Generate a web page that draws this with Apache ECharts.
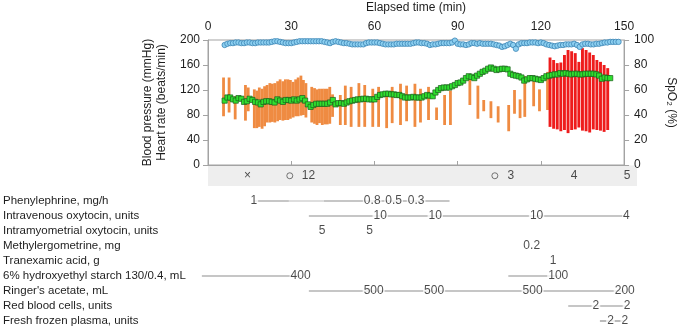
<!DOCTYPE html>
<html>
<head>
<meta charset="utf-8">
<script src="https://cdn.jsdelivr.net/npm/echarts@6/dist/echarts.min.js"></script>
<style>
  html, body { margin: 0; padding: 0; background: #fff; }
  #chart { width: 685px; height: 329px; }
</style>
</head>
<body>
<div id="chart"></div>
<script>
  // heart rate, one reading per minute from minute 6
  var hrStart = 6;
  var hrValues = [
    103, 108, 108, 105, 103, 107, 106, 101, 102, 106,
    104, 101, 100, 97, 101, 102, 102, 101, 100, 105,
    103, 101, 104, 104, 103, 105, 103, 105, 107, 103,
    97, 93, 96, 98, 98, 98, 98, 98, 100, 104,
    97, 99, 99, 98, 100, 102, 103, 104, 105, 105,
    106, 106, 105, 105, 105, 109, 112, 113, 114, 114,
    113, 113, 112, 112, 110, 108, 108, 108, 109, 108,
    108, 108, 110, 112, 111, 110, 116, 120, 123, 124,
    124, 124, 126, 128, 131, 132, 135, 139, 142, 141,
    139, 143, 146, 149, 151, 154, 156, 154, 152, 153,
    154, 154, 153, 146, 144, 143, 142, 140, 135, 137,
    139, 139, 138, 137, 136, 139, 142, 143, 144, 145,
    145, 147, 146, 147, 146, 145, 146, 146, 145, 145,
    146, 146, 146, 146, 145, 143, 138, 140, 139, 139
  ];

  // SpO2, one reading per minute from minute 6
  var spo2Start = 6;
  var spo2Values = [
    96, 97, 97.5, 97.5, 98, 98, 97.5, 97.5, 98, 98,
    97.5, 97.5, 98, 98, 98, 98, 98, 98.5, 99, 99,
    98.5, 98, 97.5, 97.5, 97.5, 98, 98.5, 99, 99, 99,
    99, 99, 99, 99, 99, 99, 98.5, 98, 97.5, 98.5,
    99, 98.5, 98, 97.5, 97.5, 97, 96.5, 96.5, 96.5, 96.5,
    96.5, 97.5, 98, 98, 98, 98, 97.5, 97, 96.5, 96.5,
    96.5, 96.5, 97, 97, 97, 97, 97, 97, 97.5, 98,
    98, 97.5, 97.5, 97, 96, 96.5, 96.5, 97, 97.5, 97.5,
    97.5, 97.5, 98, 99.5, 97, 96.5, 96.5, 96, 96.5, 97.5,
    97.5, 97, 97.5, 97, 97, 97, 97, 96.5, 96, 95.5,
    94.5, 95, 96, 97, 96, 93, 96.5, 97.5, 97.5, 97.5,
    98, 98, 98, 97.5, 98, 97.5, 96.5, 96, 95.5, 95,
    95.5, 96, 96, 96.5, 96.5, 96.5, 97, 96, 94.5, 96.5,
    97, 97, 96.5, 96.5, 97, 97, 97.5, 98, 98, 98.5,
    98.5, 98.5, 98.5
  ];

  // blood pressure ranges (orange): time, low, high
  var bpTime = [5.6, 7.6, 9.8, 13.5, 14.5, 16.7, 17.6, 18.5, 19.5, 20.4, 21.3, 22.3, 23.2, 24.1, 25.1, 26.0,
    27.0, 27.9, 28.8, 29.7, 30.7, 31.6, 32.5, 33.5, 34.4, 35.3, 37.4, 38.4, 39.3, 40.2, 41.2, 42.1, 43.0,
    43.9, 44.9, 47.7, 49.5, 51.6, 54.4, 56.5, 59.4, 61.5, 64.4, 66.4, 69.4, 71.6, 74.6, 76.6, 79.5, 82.4,
    85.3, 87.4, 94.4, 97.3, 99.4, 102.0, 104.6, 108.4, 110.5, 112.5, 114.2, 117.4, 119.5, 122.4];
  var bpLow = [78, 84, 73, 71, 86, 59, 59, 61, 58, 62, 68, 68, 69, 68, 70, 72,
    71, 72, 72, 74, 76, 78, 78, 79, 80, 76, 68, 66, 64, 67, 64, 65, 65,
    66, 77, 64, 64, 61, 61, 61, 61, 61, 59, 67, 64, 70, 61, 68, 72, 72,
    64, 64, 96, 74, 86, 75, 68, 54, 82, 75, 77, 94, 86, 88];
  var bpHigh = [140, 140, 110, 128, 124, 121, 119, 124, 122, 126, 128, 131, 130, 131, 134, 137,
    134, 137, 137, 136, 133, 137, 140, 143, 136, 131, 125, 123, 121, 122, 122, 122, 122,
    125, 113, 112, 127, 125, 131, 128, 122, 125, 113, 125, 130, 127, 130, 122, 125, 92,
    112, 119, 137, 127, 104, 102, 94, 96, 120, 105, 142, 134, 121, 149];

  // blood pressure ranges (red, late phase)
  var redTime = [123.3, 124.6, 125.9, 127.2, 128.5, 129.8, 131.1, 132.4, 133.7, 135.0, 136.3, 137.6,
    138.9, 140.2, 141.5, 142.8, 144.1];
  var redLow = [61, 58, 57, 54, 56, 51, 56, 57, 60, 55, 54, 52, 57, 56, 55, 53, 56];
  var redHigh = [172, 168, 163, 164, 176, 184, 182, 179, 165, 187, 184, 180, 176, 168, 165, 160, 155];

  // event strip
  var circleTimes = [28.6, 100.3];
  var markTimes = [13.8, 35.1, 105.9, 128.0, 146.5];
  var markLabels = ['\u00d7', '12', '3', '4', '5'];

  // medication table
  var drugNames = ['Phenylephrine, mg/h', 'Intravenous oxytocin, units', 'Intramyometrial oxytocin, units',
    'Methylergometrine, mg', 'Tranexamic acid, g', '6% hydroxyethyl starch 130/0.4, mL',
    "Ringer's acetate, mL", 'Red blood cells, units', 'Fresh frozen plasma, units'];
  var doseLabels = [
    [0, 15.7, '1'], [0, 57.2, '0.8'], [0, 64.7, '0.5'], [0, 72.6, '0.3'],
    [1, 60.0, '10'], [1, 79.3, '10'], [1, 114.8, '10'], [1, 146.3, '4'],
    [2, 39.6, '5'], [2, 56.3, '5'],
    [3, 113.1, '0.2'],
    [4, 120.6, '1'],
    [5, 32.1, '400'], [5, 122.4, '100'],
    [6, 57.7, '500'], [6, 78.9, '500'], [6, 113.4, '500'], [6, 145.7, '200'],
    [7, 135.6, '2'], [7, 146.5, '2'],
    [8, 140.7, '2'], [8, 145.7, '2']
  ];
  // row, from, to
  var doseLines = [
    [0, 15.7, 28.0], [0, 40.3, 84.3],
    [1, 35.0, 146.3],
    [5, -2.5, 32.1], [5, 104.9, 122.4],
    [6, 35.0, 145.7],
    [7, 125.9, 146.5],
    [8, 137.0, 145.7]
  ];
  var doseLinesFaint = [[0, 28.0, 40.3]];

  var FONT = '"Liberation Sans", Arial, Helvetica, sans-serif';
  var AX = '#a3a3a3';
  var TXT = '#1e1e1e';

  function zip3(a, b, c) {
    return a.map(function (v, i) { return [v, b[i], c[i]]; });
  }

  function rangeBars(color, w) {
    return function (params, api) {
      var hi = api.coord([api.value(0), api.value(2)]);
      var lo = api.coord([api.value(0), api.value(1)]);
      return {
        type: 'rect',
        shape: { x: hi[0] - w / 2, y: hi[1], width: w, height: lo[1] - hi[1] },
        style: { fill: color }
      };
    };
  }

  function segments(color) {
    return function (params, api) {
      var a = api.coord([api.value(1), api.value(0)]);
      var b = api.coord([api.value(2), api.value(0)]);
      return {
        type: 'line',
        shape: { x1: a[0], y1: a[1], x2: b[0], y2: b[1] },
        style: { stroke: color, lineWidth: 1.2 }
      };
    };
  }

  var chart = echarts.init(document.getElementById('chart'));
  chart.setOption({
    animation: false,
    textStyle: { fontFamily: FONT },
    grid: [
      { left: 208, right: 48, top: 40, height: 125, show: true, borderColor: AX, borderWidth: 1 },
      { left: 208, right: 48, top: 165.5, height: 20.5, show: true, backgroundColor: '#eeeeee', borderWidth: 0 },
      { left: 208, right: 48, top: 193.5, height: 135 }
    ],
    xAxis: [
      {
        gridIndex: 0, type: 'value', position: 'top', min: 0, max: 150, interval: 30,
        name: 'Elapsed time (min)', nameLocation: 'middle', nameGap: 26,
        nameTextStyle: { fontSize: 12, color: TXT },
        axisLine: { lineStyle: { color: AX } },
        axisTick: { show: true, length: 4, lineStyle: { color: AX } },
        axisLabel: { fontSize: 12, color: TXT, margin: 7 },
        splitLine: { show: false }
      },
      { gridIndex: 1, type: 'value', min: 0, max: 150, show: false },
      { gridIndex: 2, type: 'value', min: 0, max: 150, show: false }
    ],
    yAxis: [
      {
        gridIndex: 0, type: 'value', min: 0, max: 200, interval: 40,
        name: 'Blood pressure (mmHg)\nHeart rate (beats/min)', nameLocation: 'middle', nameGap: 36,
        nameTextStyle: { fontSize: 12, color: TXT, lineHeight: 14 },
        axisLine: { show: true, lineStyle: { color: AX } },
        axisTick: { show: true, length: 5, lineStyle: { color: AX } },
        axisLabel: { fontSize: 12, color: TXT, margin: 8 },
        splitLine: { show: false }
      },
      {
        gridIndex: 0, type: 'value', position: 'right', min: 0, max: 100, interval: 20,
        name: 'SpO\u2082 (%)', nameLocation: 'middle', nameRotate: -90, nameGap: 37,
        nameTextStyle: { fontSize: 12, color: TXT },
        axisLine: { show: true, lineStyle: { color: AX } },
        axisTick: { show: true, length: 5, lineStyle: { color: AX } },
        axisLabel: { fontSize: 12, color: TXT, margin: 10 },
        splitLine: { show: false }
      },
      { gridIndex: 1, type: 'value', min: 0, max: 1, show: false },
      {
        gridIndex: 2, type: 'category', data: drugNames, inverse: true,
        axisLine: { show: false }, axisTick: { show: false }, splitLine: { show: false },
        axisLabel: { align: 'left', margin: 206, fontSize: 11.5, color: TXT, interval: 0 }
      }
    ],
    series: [
      {
        type: 'custom', xAxisIndex: 0, yAxisIndex: 0, z: 2,
        data: zip3(bpTime, bpLow, bpHigh), encode: { x: 0, y: [1, 2] },
        renderItem: rangeBars('#ef8b42', 2.8)
      },
      {
        type: 'custom', xAxisIndex: 0, yAxisIndex: 0, z: 2,
        data: zip3(redTime, redLow, redHigh), encode: { x: 0, y: [1, 2] },
        renderItem: rangeBars('#ee1c1c', 2.9)
      },
      {
        type: 'line', xAxisIndex: 0, yAxisIndex: 0, z: 3,
        data: hrValues.map(function (v, i) { return [hrStart + i, v]; }),
        symbol: 'rect', symbolSize: 5.2, showSymbol: true,
        lineStyle: { color: '#2a6e2a', width: 1 },
        itemStyle: { color: '#2fe02f', borderColor: '#1d5c1d', borderWidth: 0.7 }
      },
      {
        type: 'scatter', xAxisIndex: 0, yAxisIndex: 1, z: 4,
        data: spo2Values.map(function (v, i) { return [spo2Start + i, v]; }),
        symbol: 'circle', symbolSize: 5.4,
        itemStyle: { color: '#8ccff0', borderColor: '#3c85b5', borderWidth: 0.8, opacity: 1 }
      },
      {
        type: 'scatter', xAxisIndex: 1, yAxisIndex: 2, silent: true,
        data: circleTimes.map(function (t) { return [t, 0.5]; }),
        symbol: 'circle', symbolSize: 6,
        itemStyle: { color: 'rgba(0,0,0,0)', borderColor: '#555', borderWidth: 1 }
      },
      {
        type: 'scatter', xAxisIndex: 1, yAxisIndex: 2, silent: true,
        data: markTimes.map(function (t, i) { return { value: [t, 0.5], name: markLabels[i] }; }),
        symbolSize: 0,
        label: { show: true, position: 'inside', formatter: '{b}', fontSize: 12, color: TXT }
      },
      {
        type: 'custom', xAxisIndex: 2, yAxisIndex: 3, z: 1,
        data: doseLines, encode: { x: [1, 2], y: 0 },
        renderItem: segments('#8e8e8e')
      },
      {
        type: 'custom', xAxisIndex: 2, yAxisIndex: 3, z: 1,
        data: doseLinesFaint, encode: { x: [1, 2], y: 0 },
        renderItem: segments('#bcbcbc')
      },
      {
        type: 'scatter', xAxisIndex: 2, yAxisIndex: 3, z: 3, silent: true,
        data: doseLabels.map(function (d) { return { value: [d[1], d[0]], name: d[2] }; }),
        symbolSize: 0,
        label: {
          show: true, position: 'inside', formatter: '{b}', fontSize: 12, color: TXT,
          backgroundColor: '#ffffff', padding: [0, 1]
        }
      }
    ]
  });
</script>
</body>
</html>
